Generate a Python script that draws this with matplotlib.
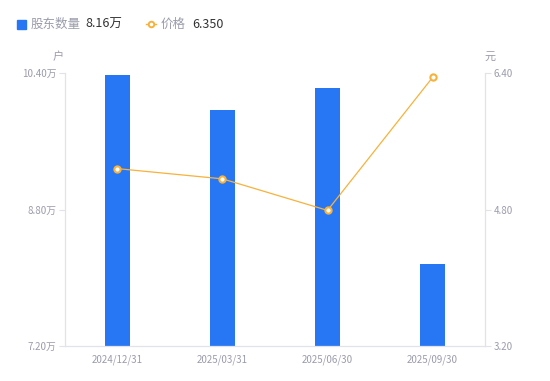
import matplotlib.pyplot as plt
import numpy as np

plt.rcParams['font.family'] = ['Noto Sans CJK SC', 'DejaVu Sans']

# data
dates = ['2024/12/31', '2025/03/31', '2025/06/30', '2025/09/30']
holders = [10.38, 9.97, 10.23, 8.16]   # 万户
price = [5.28, 5.16, 4.79, 6.35]       # 元
left_ticks = [7.20, 8.80, 10.40]
right_ticks = [3.20, 4.80, 6.40]

blue = '#2777F4'
orange = '#F7B23B'
gray = '#9B9CAB'
axis_col = '#E2E3E8'

fig = plt.figure(figsize=(5.5, 3.81), dpi=100)
ax = fig.add_axes([0.118, 0.092, 0.764, 0.716])
ax2 = ax.twinx()

x = np.arange(len(dates))
ax.bar(x, holders, width=0.24, color=blue, zorder=2)
ax.set_xlim(-0.5, len(dates) - 0.5)
ax.set_ylim(7.20, 10.40)
ax.set_yticks(left_ticks)
ax.set_yticklabels([f'{v:.2f}万' for v in left_ticks])
ax.set_xticks(x)
ax.set_xticklabels(dates)

ax2.plot(x, price, color=orange, lw=0.9, marker='o', ms=4.5,
         mfc='white', mec=orange, mew=1.5, zorder=3)
ax2.set_ylim(3.20, 6.40)
ax2.set_yticks(right_ticks)
ax2.set_yticklabels([f'{v:.2f}' for v in right_ticks])

for a in (ax, ax2):
    for s in a.spines.values():
        s.set_visible(False)
    a.tick_params(colors=axis_col, labelcolor=gray, labelsize=7, length=4, width=0.8)
ax.spines['left'].set_visible(True)
ax.spines['bottom'].set_visible(True)
ax2.spines['right'].set_visible(True)
for s in (ax.spines['left'], ax.spines['bottom'], ax2.spines['right']):
    s.set_color(axis_col)
    s.set_linewidth(0.9)
ax.tick_params(axis='x', length=0, pad=6)
ax.tick_params(axis='y', pad=2)
ax2.tick_params(axis='y', pad=2)

# unit labels
fig.text(58 / 550, 1 - 57 / 381, '户', color=gray, fontsize=8, ha='center', va='center')
fig.text(490 / 550, 1 - 57 / 381, '元', color=gray, fontsize=8, ha='center', va='center')

# legend row
ly = 1 - 24 / 381
fig.patches.append(plt.Rectangle((17 / 550, ly - 4.5 / 381), 9 / 550, 9 / 381,
                                 transform=fig.transFigure, color=blue))
fig.text(31 / 550, ly, '股东数量', color=gray, fontsize=9, va='center')
fig.text(85 / 550, ly, f'{holders[-1]:.2f}万', color='#333333', fontsize=9, va='center')
fig.lines.append(plt.Line2D([146 / 550, 156 / 550], [ly, ly], transform=fig.transFigure,
                            color=orange, lw=1))
fig.lines.append(plt.Line2D([151 / 550], [ly], transform=fig.transFigure, marker='o', ms=4,
                            mfc='white', mec=orange, mew=1.4, color=orange))
fig.text(161 / 550, ly, '价格', color=gray, fontsize=9, va='center')
fig.text(192 / 550, ly, f'{price[-1]:.3f}', color='#333333', fontsize=9, va='center')

fig.savefig('out.png', dpi=100)
